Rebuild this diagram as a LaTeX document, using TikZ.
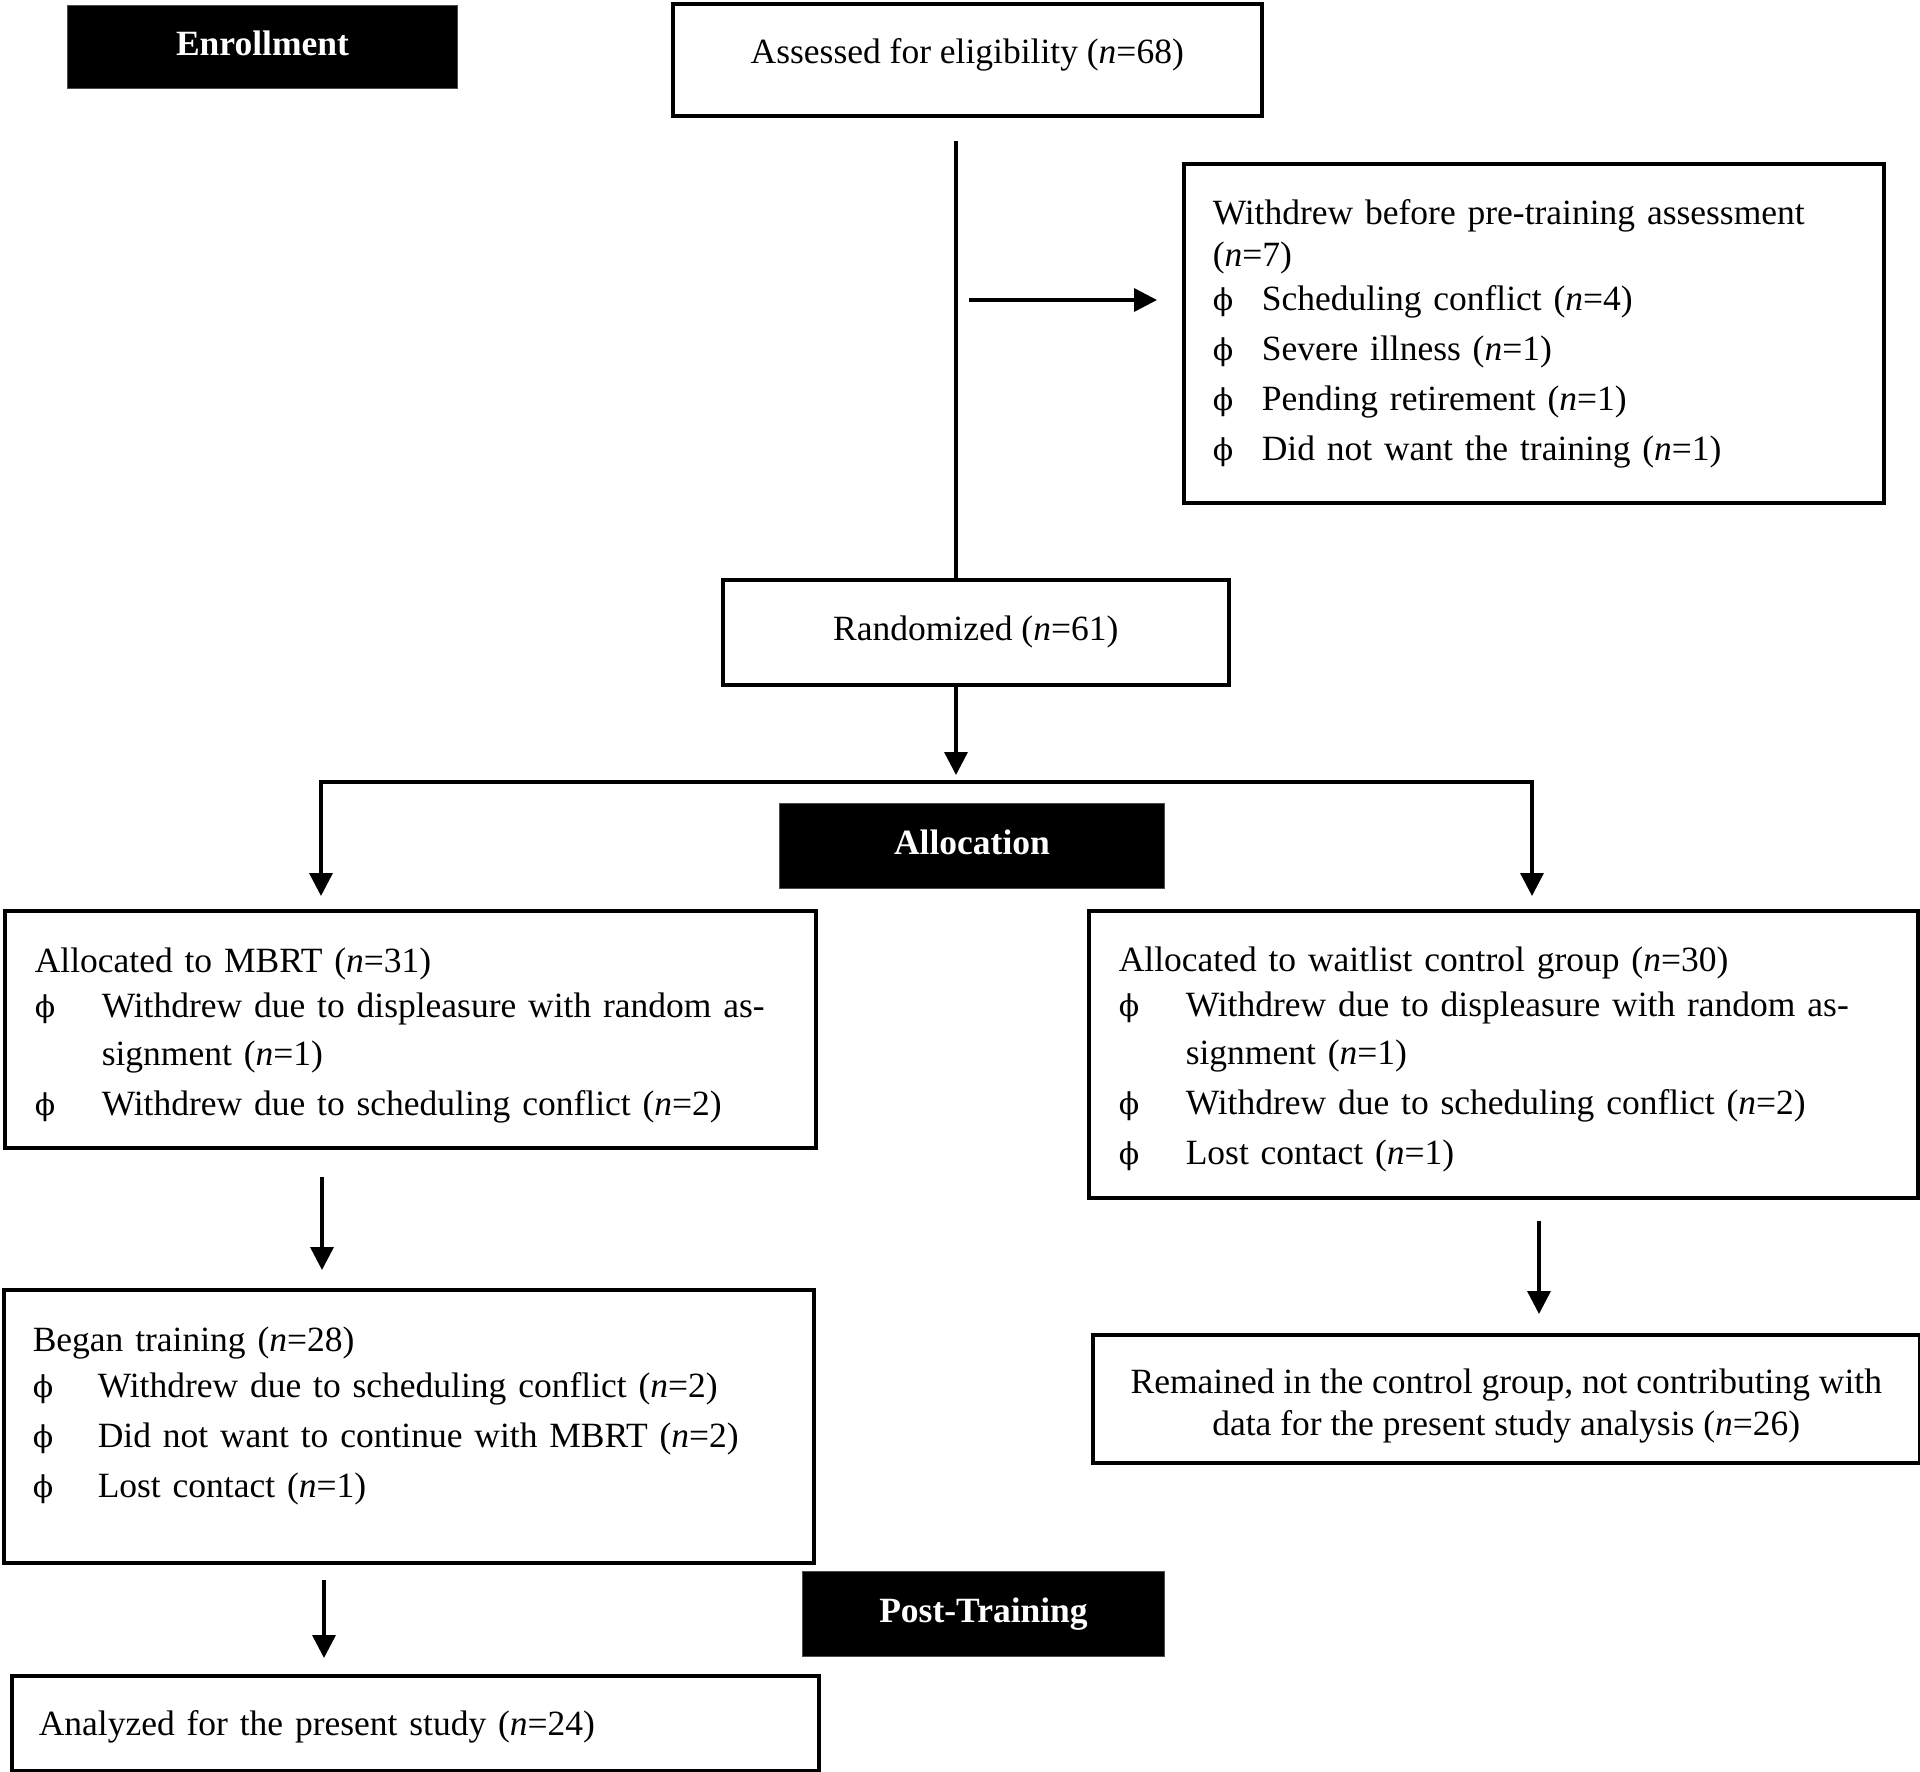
\documentclass[tikz,border=0pt]{standalone}
\usepackage{fontspec}
\setmainfont{Liberation Serif}
\newfontfamily\phifont{DejaVu Serif}
\usetikzlibrary{arrows.meta}
\newcommand{\phb}{{\phifont\fontsize{30pt}{30pt}\selectfont ϕ}}
\newcommand{\itm}[1]{\makebox[#1][l]{\phb}}
\newcommand{\nn}{\textit{n}}
\newcommand{\dpt}[1]{\rule[-#1]{0pt}{#1}}
\newcommand{\htt}[1]{\rule{0pt}{#1}}
\tikzset{
  box/.style={draw=black, line width=3.5pt, fill=white, anchor=north west, inner ysep=0pt,
    font=\fontsize{35.5pt}{43pt}\selectfont},
  lbox/.style={box, inner xsep=30pt, align=left},
  cbox/.style={box, inner xsep=10pt, align=center},
  blk/.style={draw=black!70, line width=1pt, fill=black, text=white, anchor=north west,
    inner sep=0pt, font=\fontsize{35.5pt}{43pt}\selectfont\bfseries},
  ln/.style={line width=3.5pt},
  arr/.style={line width=3.5pt, -{Triangle[width=23pt,length=23pt]}}
}
\begin{document}
\begin{tikzpicture}[x=1pt, y=-1pt]
\useasboundingbox (0,0) rectangle (1920,1772);

% labels
\node[blk, minimum width=390pt, minimum height=83pt] (enr) at (67,5) {Enrollment\dpt{8pt}};
\node[blk, minimum width=385pt, minimum height=85pt] (alloc) at (779,803) {Allocation\dpt{8pt}};
\node[blk, minimum width=362pt, minimum height=85pt] (post) at (802,1571) {Post-Training};

% boxes
\node[cbox, minimum width=589pt, minimum height=112pt] (assess) at (671,2)
  {Assessed for eligibility (\nn=68)\dpt{17pt}};

\node[lbox, inner xsep=29pt, minimum width=700pt, minimum height=339pt, text width=642pt] (wd) at (1182,162)
  {\htt{27pt}Withdrew before pre-training assessment\\[-1pt]
   (\nn=7)\\[1pt]
   \itm{49pt}Scheduling conflict (\nn=4)\\[7pt]
   \itm{49pt}Severe illness (\nn=1)\\[7pt]
   \itm{49pt}Pending retirement (\nn=1)\\[7pt]
   \itm{49pt}Did not want the training (\nn=1)};

\node[cbox, minimum width=506pt, minimum height=105pt] (rand) at (721,578)
  {Randomized (\nn=61)};

\node[lbox, minimum width=811pt, minimum height=237pt, text width=751pt] (mbrt) at (3,909)
  {\htt{37pt}Allocated to MBRT (\nn=31)\\[2pt]
   \itm{67pt}Withdrew due to displeasure with random as-\\[5pt]
   \hspace*{67pt}signment (\nn=1)\\[7pt]
   \itm{67pt}Withdrew due to scheduling conflict (\nn=2)};

\node[lbox, minimum width=829pt, minimum height=287pt, text width=769pt] (wl) at (1087,909)
  {\htt{35pt}Allocated to waitlist control group (\nn=30)\\[2pt]
   \itm{67pt}Withdrew due to displeasure with random as-\\[5pt]
   \hspace*{67pt}signment (\nn=1)\\[7pt]
   \itm{67pt}Withdrew due to scheduling conflict (\nn=2)\\[7pt]
   \itm{67pt}Lost contact (\nn=1)};

\node[lbox, inner xsep=29pt, minimum width=810pt, minimum height=273pt, text width=752pt] (began) at (2,1288)
  {\htt{59pt}Began training (\nn=28)\\[3pt]
   \itm{65pt}Withdrew due to scheduling conflict (\nn=2)\\[7pt]
   \itm{65pt}Did not want to continue with MBRT (\nn=2)\\[7pt]
   \itm{65pt}Lost contact (\nn=1)\\[7pt]
   \strut};

\node[cbox, minimum width=827pt, minimum height=128pt,
  font=\fontsize{35.5pt}{42pt}\selectfont] (rem) at (1091,1333)
  {\htt{39pt}Remained in the control group, not contributing with\\
   data for the present study analysis (\nn=26)};

\node[lbox, inner xsep=27pt, minimum width=807pt, minimum height=95pt, text width=753pt] (ana) at (10,1674)
  {\htt{33pt}Analyzed for the present study (\nn=24)};

% free ends of connectors
\coordinate (tt) at (956,141);
\coordinate (sa) at (969,300);
\coordinate (sp) at (956,782);
\coordinate (bl) at (321,782);
\coordinate (br) at (1532,782);
\coordinate (c1) at (322,0);
\coordinate (c2) at (1539,0);
\coordinate (c3) at (324,0);

% connectors
\draw[ln] (tt) -- (tt |- rand.north);
\draw[arr, shorten >=25pt] (sa) -- (sa -| wd.west);
\draw[arr, shorten >=7pt] (sp |- rand.south) -- (sp);
\draw[arr, shorten >=13pt] (sp) -- (bl) -- (bl |- mbrt.north);
\draw[arr, shorten >=13pt] (sp) -- (br) -- (br |- wl.north);
\draw[arr, shorten <=27pt, shorten >=18pt] (c1 |- mbrt.south) -- (c1 |- began.north);
\draw[arr, shorten <=21pt, shorten >=19pt] (c2 |- wl.south) -- (c2 |- rem.north);
\draw[arr, shorten <=15pt, shorten >=16pt] (c3 |- began.south) -- (c3 |- ana.north);
\end{tikzpicture}
\end{document}
